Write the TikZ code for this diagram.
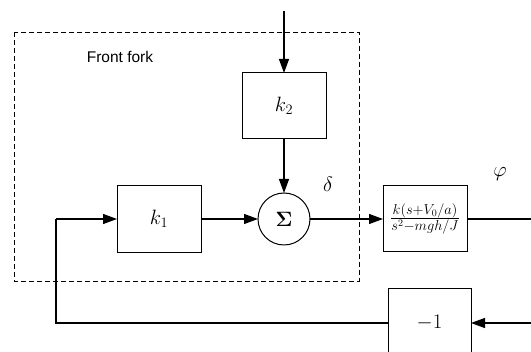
\documentclass[tikz,border=0pt]{standalone}
\usepackage{fontspec}
\newfontfamily\labelfont{Liberation Sans}
\usetikzlibrary{arrows.meta}
\begin{document}
\begin{tikzpicture}[x=1pt,y=-1pt,
  blk/.style={draw,line width=1pt,minimum width=84pt,minimum height=66pt,inner sep=0pt,outer sep=0pt,font=\fontsize{20}{24}\selectfont},
  sumnode/.style={draw,circle,line width=1pt,minimum size=52pt,inner sep=0pt,outer sep=0pt,font=\fontsize{20}{24}\selectfont\boldmath},
  conn/.style={line width=1.1pt},
  arr/.style={line width=1.1pt,-{Triangle[length=14pt,width=10pt]}},
  lbl/.style={inner sep=0pt,font=\fontsize{20}{24}\selectfont}]
\useasboundingbox (0,0) rectangle (531,352);
\draw[dashed,line width=0.8pt,dash pattern=on 5pt off 3pt] (14,32) rectangle (359,281);
\node[inner sep=0pt,font=\labelfont\fontsize{15.5}{18}\selectfont] (ff) at (120,57) {Front fork};
\node[blk] (k2) at (284,106) {$k_2$};
\node[blk,minimum height=67pt] (k1) at (159,219) {$k_1$};
\node[sumnode] (sum) at (284,219) {$\Sigma$};
\node[blk] (tf) at (425,219) {$\frac{k(s+V_0/a)}{s^2-mgh/J}$};
\node[blk,minimum width=83pt,minimum height=68pt] (m1) at (429.5,323) {$-1$};
\node[lbl] (delta) at (328,184) {$\delta$};
\node[lbl] (phi) at (500,174) {$\varphi$};
\coordinate (in) at (284,11);
\coordinate (out) at (531,219);
\coordinate (fbin) at (531,323);
\coordinate (c1) at (56,323);
\coordinate (c2) at (56,219);
\draw[arr] (in) -- (k2.north);
\draw[arr] (k2.south) -- (sum.north);
\draw[arr] (k1.east) -- (sum.west);
\draw[arr] (sum.east) -- (tf.west);
\draw[conn] (tf.east) -- (out);
\draw[arr] (fbin) -- (m1.east);
\draw[conn] (m1.west) -- (c1) -- (c2);
\draw[arr] (c2) -- (k1.west);
\end{tikzpicture}
\end{document}
